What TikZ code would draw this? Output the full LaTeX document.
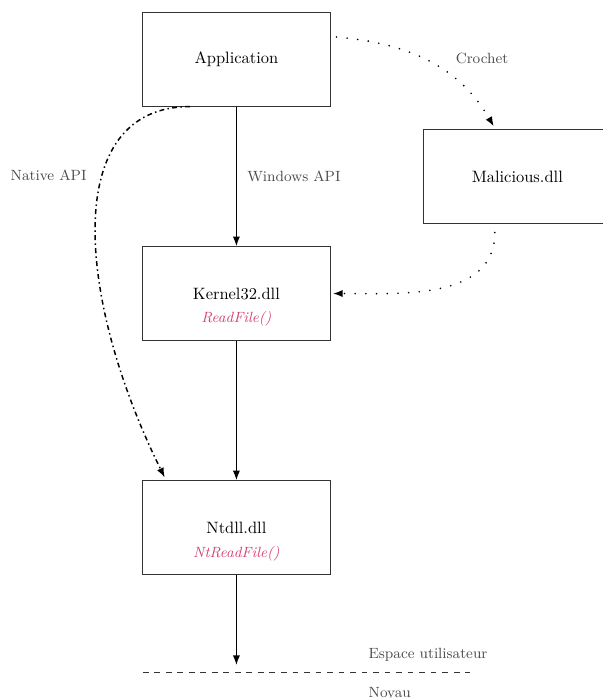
\documentclass[tikz,border=0pt]{standalone}
\usepackage{tikz}
\usepackage{xcolor}
\usetikzlibrary{arrows, arrows.meta, calc}

\definecolor{fnpink}{RGB}{214,64,116}

\begin{document}
\begin{tikzpicture}[
        dll/.style={draw=black!80, minimum width=4cm, minimum height=2cm},
        fn/.style={font=\small\itshape, text=fnpink},
        lbl/.style={font=\small, text=black!70},
        call/.style={line width=0.9pt, -{Latex[length=6pt, width=4.4pt]}},
        hook/.style={line width=1.1pt, line cap=round, -{Latex[length=6pt, width=4.4pt]}, dash pattern=on 0pt off 6.5pt},
        native/.style={line width=0.9pt, -{Latex[length=6pt, width=4.4pt]}, dash dot},
        limit/.style={black!80, dash pattern=on 3.5pt off 3.5pt}
    ]
                    \useasboundingbox (-5.05, 1.27) rectangle (7.83, -13.64);

                    \node[dll] (app) at (0, 0) {Application};
                    \node[dll] (malicious) at (6, -2.5) {Malicious.dll};
                    \node[dll] (kernel) at (0, -5) {Kernel32.dll};
                    \node[fn] (readfile) at (0, -5.53) {ReadFile()};
                    \node[dll] (ntdll) at (0, -10) {Ntdll.dll};
                    \node[fn] (ntreadfile) at (0, -10.55) {NtReadFile()};

                    \coordinate (limitL) at (-2, -13.09);
                    \coordinate (limitR) at (5, -13.09);
                    \coordinate (limitTop) at (0, -12.94);

                    \draw[call] (app) -- node[lbl, right=0.1cm] (winapi) {Windows API} (kernel);
                    \draw[call] (kernel) -- (ntdll);
                    \draw[call] (ntdll) -- (limitTop);

                    \draw[hook] ($(app.east) + (0.13, 0.48)$) to[out=-5, in=120]
                        node[lbl, pos=0.5, right=0.45cm, yshift=0.06cm] (crochet) {Crochet}
                        ($(malicious.north) + (-0.5, 0.06)$);
                    \draw[hook] ($(malicious.south) + (-0.48, -0.19)$) to[out=-90, in=0]
                        ($(kernel.east) + (0.05, 0)$);
                    \draw[native] ($(app.south) + (-0.99, 0)$)
                        .. controls ($(app.south) + (-3.77, 0)$) and ($(ntdll.north) + (-3.41, 3.86)$) ..
                        node[lbl, pos=0.37, left=0.2cm] (nativeapi) {Native API}
                        ($(ntdll.north) + (-1.53, 0.06)$);

                    \draw[limit] (limitL) -- (limitR);
                    \node[lbl, anchor=west] (userspace) at ($(limitL) + (4.7, 0.38)$) {Espace utilisateur};
                    \node[lbl, anchor=west] (kernelspace) at ($(limitL) + (4.7, -0.46)$) {Noyau};
\end{tikzpicture}
\end{document}
